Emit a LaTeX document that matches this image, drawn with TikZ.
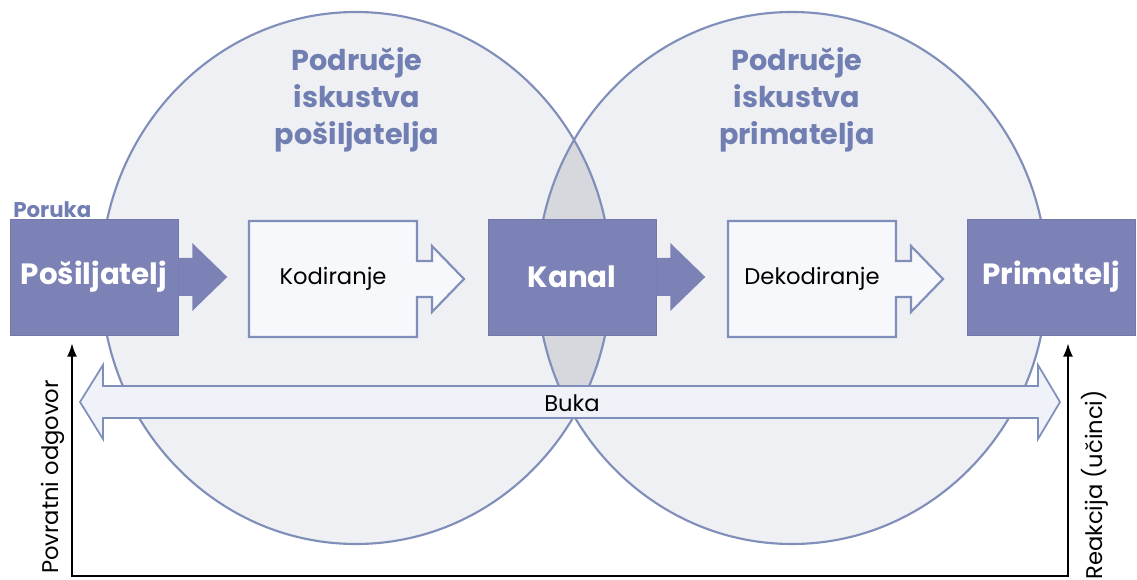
\documentclass[tikz,border=0pt]{standalone}
\usepackage{fontspec}
\setmainfont{Poppins}
\usetikzlibrary{arrows.meta}

\definecolor{boxblue}{RGB}{124,130,182}
\definecolor{edgeblue}{RGB}{128,142,186}
\definecolor{titleblue}{RGB}{112,126,178}
\definecolor{circlefill}{RGB}{239,240,243}
\definecolor{lensfill}{RGB}{214,216,222}
\definecolor{outfill}{RGB}{247,248,252}
\definecolor{noisefill}{RGB}{228,234,245}

\begin{document}
\begin{tikzpicture}[x=0.75pt,y=-0.75pt]
    \tikzstyle{darkbox}=[rectangle,fill=boxblue,draw=boxblue!92!black,minimum width=126pt,minimum height=87pt,inner sep=0pt,text=white,font=\bfseries\fontsize{22}{26}\selectfont]
    \tikzstyle{lightbox}=[rectangle,minimum width=126pt,minimum height=87pt,inner sep=0pt,font=\fontsize{17}{20}\selectfont]
    \tikzstyle{outline}=[draw=edgeblue,fill=outfill,line width=1.6pt]
    \tikzstyle{area}=[draw=edgeblue,line width=1.6pt]
    \tikzstyle{title}=[align=center,text=titleblue,font=\bfseries\fontsize{21.5}{27.5}\selectfont]
    \tikzstyle{feedback}=[line width=1.5pt,{Latex[length=10pt,width=7.5pt]}-{Latex[length=10pt,width=7.5pt]},shorten <=6pt,shorten >=6pt]
    \useasboundingbox (0,0) rectangle (1137,580);

    % fields of experience
    \fill[circlefill] (356,278) ellipse [x radius=255, y radius=266];
    \fill[circlefill] (792,278) ellipse [x radius=255, y radius=266];
    \begin{scope}
        \clip (356,278) ellipse [x radius=255, y radius=266];
        \fill[lensfill] (792,278) ellipse [x radius=255, y radius=266];
    \end{scope}
    \draw[area] (356,278) ellipse [x radius=255, y radius=266];
    \draw[area] (792,278) ellipse [x radius=255, y radius=266];

    \node[title] (sendarea) at (357,100) {Područje\\iskustva\\pošiljatelja};
    \node[title] (recvarea) at (797,100) {Područje\\iskustva\\primatelja};

    % dark boxes
    \foreach \name/\x/\txt in {posiljatelj/94/Pošiljatelj, kanal/572/Kanal, primatelj/1051/Primatelj}
        \node[darkbox] (\name) at (\x,277) {\txt};
    \foreach \name in {posiljatelj, kanal}
        \fill[boxblue] (\name.east) ++(0,-19) -- ++(14,0) -- ++(0,-15) -- ++(35,34)
            -- ++(-35,34) -- ++(0,-15) -- ++(-14,0) -- cycle;

    % open boxes
    \foreach \name/\x/\txt in {kodiranje/333/Kodiranje, dekodiranje/812/Dekodiranje}{
        \draw[outline] (\x,279) ++(-84,-58) -- ++(168,0) -- ++(0,40) -- ++(15,0) -- ++(0,-15)
            -- ++(32,33) -- ++(-32,33) -- ++(0,-15) -- ++(-15,0) -- ++(0,40) -- ++(-168,0) -- cycle;
        \node[lightbox] (\name) at (\x,279) {\txt};
    }

    \node[text=titleblue,font=\bfseries\fontsize{16}{18}\selectfont,anchor=south west,inner sep=0pt] (poruka) at (13,218) {Poruka};

    % noise
    \draw[outline,fill=noisefill!60!white,line width=1.3pt] (80,402) -- (103,365) -- (103,386) -- (1038,386) -- (1038,365) -- (1060,402)
        -- (1038,439) -- (1038,418) -- (103,418) -- (103,439) -- cycle;
    \node[font=\fontsize{17}{20}\selectfont] (buka) at (572,403) {Buka};

    % feedback loop
    \coordinate (fbl) at (72,576);
    \coordinate (fbr) at (1068,576);
    \draw[feedback] (fbl |- posiljatelj.south) -- (fbl) -- (fbr) -- (fbr |- primatelj.south);
    \node[rotate=90,font=\fontsize{17}{20}\selectfont] (povratni) at (53,477) {Povratni odgovor};
    \node[rotate=90,font=\fontsize{17}{20}\selectfont] (reakcija) at (1095,485) {Reakcija (učinci)};
\end{tikzpicture}
\end{document}
